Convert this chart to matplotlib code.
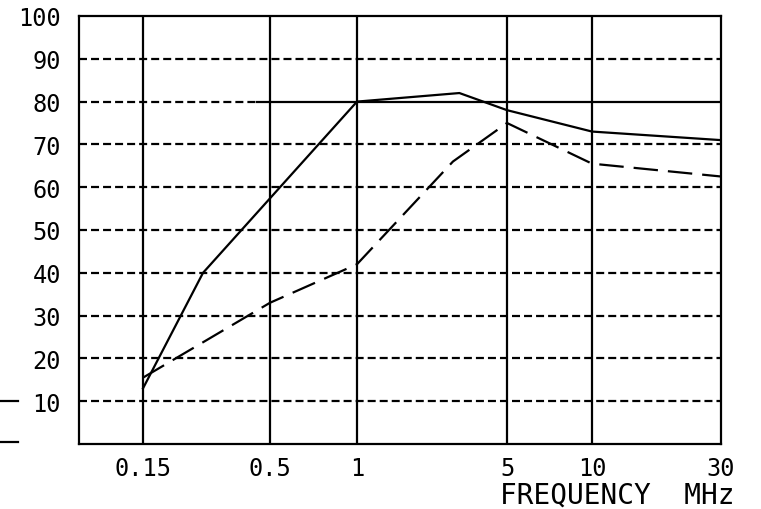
import numpy as np
import matplotlib
matplotlib.use('Agg')
import matplotlib.pyplot as plt
import matplotlib.transforms as mtransforms
from matplotlib.lines import Line2D

# 讀值自圖 (frequency in MHz, level)
freq_solid = [0.15, 0.265, 1, 3, 5, 10, 30]
level_solid = [13, 40, 80, 82, 78, 73, 71]
freq_dashed = [0.15, 0.5, 1, 2.8, 5, 10, 30]
level_dashed = [15.5, 33, 42, 66, 75, 65.5, 62.5]

x_ticks = [0.15, 0.5, 1, 5, 10, 30]
x_ticklabels = ['0.15', '0.5', '1', '5', '10', '30']
y_ticks = [10, 20, 30, 40, 50, 60, 70, 80, 90, 100]

# 非等比的頻率軸: 節點位置 (相對單位)
scale_freqs = np.log10([0.0818, 0.15, 0.5, 1, 5, 10, 30])
scale_pos = np.array([0, 64, 191, 278, 428, 513, 642], dtype=float)


def fwd(f):
    f = np.asarray(f, dtype=float)
    lf = np.log10(np.clip(f, 1e-6, None))
    return np.interp(lf, scale_freqs, scale_pos)


def inv(p):
    p = np.asarray(p, dtype=float)
    return 10 ** np.interp(p, scale_pos, scale_freqs)


plt.rcParams['font.family'] = 'DejaVu Sans Mono'
fig = plt.figure(figsize=(7.61, 5.10), dpi=100)
ax = fig.add_axes([79 / 761, 65 / 510, 642 / 761, 428 / 510])
ax.set_xscale('function', functions=(fwd, inv))
ax.set_xlim(0.0818, 30)
ax.set_ylim(0, 100)

lw = 1.6
grid_dash = (0, (5.76 / lw, 2.9 / lw))

# 水平網格
for y in y_ticks[:-1]:
    if y == 80:
        ax.plot([0.0818, 0.44], [y, y], color='black', lw=lw, ls=grid_dash)
        ax.plot([0.44, 30], [y, y], color='black', lw=lw)
    else:
        ax.axhline(y, color='black', lw=lw, ls=grid_dash)

# 垂直網格
for x in x_ticks[:-1]:
    ax.axvline(x, color='black', lw=lw)

ax.plot(freq_solid, level_solid, color='black', lw=1.6)
ax.plot(freq_dashed, level_dashed, color='black', lw=1.6, ls=(0, (11, 4.5)))

for s in ax.spines.values():
    s.set_linewidth(lw)

ax.set_xticks(x_ticks)
ax.set_xticklabels(x_ticklabels)
ax.xaxis.set_minor_locator(matplotlib.ticker.NullLocator())
ax.set_yticks(y_ticks)
ax.tick_params(length=0, labelsize=17)
ax.tick_params(axis='y', pad=13)
ax.tick_params(axis='x', pad=9)

ax.text(735 / 761, 6 / 510, 'FREQUENCY  MHz', transform=fig.transFigure,
        fontsize=20, ha='right', va='baseline')

# 左側短線
trans = mtransforms.blended_transform_factory(fig.transFigure, ax.transData)
for y in [10, 0.5]:
    fig.add_artist(Line2D([0, 18 / 761], [y, y], transform=trans,
                          color='black', lw=lw))

fig.savefig('out.png', dpi=100)
